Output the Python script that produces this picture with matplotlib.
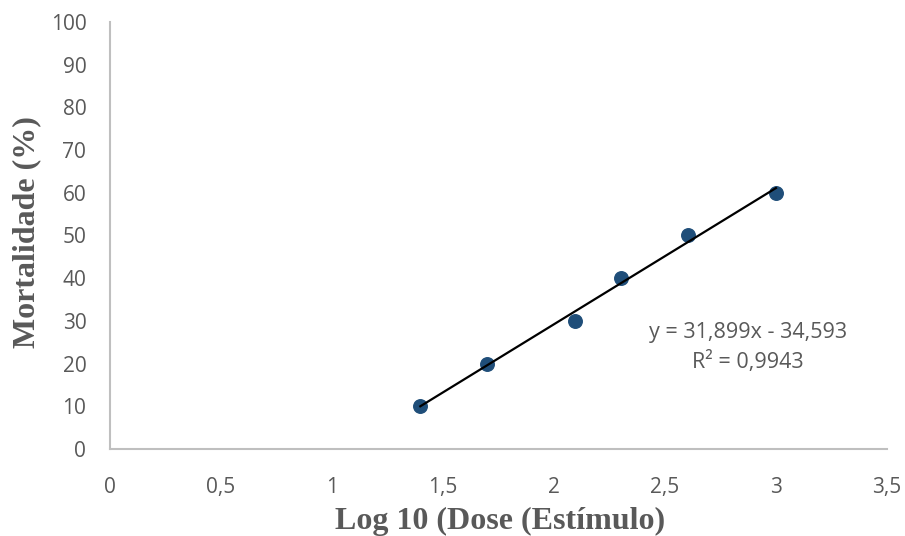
import numpy as np
from matplotlib import pyplot as plt
from matplotlib.ticker import FuncFormatter

# data
log_dose = [1.398, 1.699, 2.097, 2.301, 2.602, 3.0]
mortality = [10, 20, 30, 40, 50, 60]

# trendline shown on the chart
slope = 31.899
intercept = -34.593
r_squared = 0.9943

x_ticks = [0, 0.5, 1, 1.5, 2, 2.5, 3, 3.5]
y_ticks = list(range(0, 101, 10))

GRAY_TXT = "#595959"
GRAY_AX = "#bfbfbf"

fig = plt.figure(figsize=(9.05, 5.36), dpi=100)
ax = fig.add_axes([0.1215, 0.1623, 0.8585, 0.7967])

ax.scatter(log_dose, mortality, s=95, color="#1f4e79", zorder=3)

x_line = np.array([min(log_dose), max(log_dose)])
ax.plot(x_line, slope * x_line + intercept, color="black", linewidth=1.6, zorder=4)

eq = f"y = {slope:.3f}x - {abs(intercept):.3f}".replace(".", ",")
r2 = f"R² = {r_squared:.4f}".replace(".", ",")
ax.text(2.874, 27.2, eq, ha="center", va="center", fontsize=15.5,
        color=GRAY_TXT, family="Open Sans")
ax.text(2.874, 20.3, r2, ha="center", va="center", fontsize=15.5,
        color=GRAY_TXT, family="Open Sans")

ax.set_xlim(0, 3.5)
ax.set_ylim(0, 100)
ax.set_xticks(x_ticks)
ax.set_yticks(y_ticks)

def comma_fmt(v, pos):
    s = f"{v:g}"
    return s.replace(".", ",")

ax.xaxis.set_major_formatter(FuncFormatter(comma_fmt))
ax.yaxis.set_major_formatter(FuncFormatter(comma_fmt))

ax.tick_params(axis="both", length=0, labelsize=15, labelcolor=GRAY_TXT)
ax.tick_params(axis="x", pad=20)
ax.tick_params(axis="y", pad=17)
for lab in ax.get_xticklabels() + ax.get_yticklabels():
    lab.set_family("Open Sans")

for side in ["top", "right"]:
    ax.spines[side].set_visible(False)
for side in ["left", "bottom"]:
    ax.spines[side].set_color(GRAY_AX)
    ax.spines[side].set_linewidth(1.5)

fig.text(500 / 905, 1 - 521 / 536, "Log 10 (Dose (Estímulo)", ha="center", va="center",
         fontsize=23, fontweight="bold", family="Liberation Serif", color=GRAY_TXT)
fig.text(27 / 905, 1 - 232 / 536, "Mortalidade (%)", ha="center", va="center",
         rotation=90, fontsize=23, fontweight="bold", family="Liberation Serif",
         color=GRAY_TXT)

fig.savefig("out.png", dpi=100)
